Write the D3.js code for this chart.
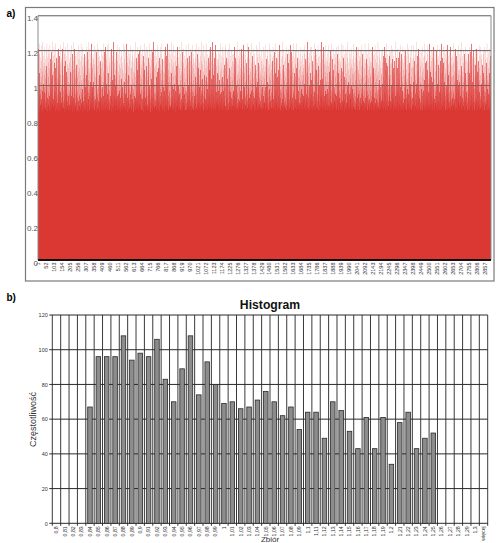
<!DOCTYPE html>
<html><head><meta charset="utf-8">
<script src="https://cdn.jsdelivr.net/npm/d3@7"></script>
<style>body{margin:0;background:#fff;} svg{display:block;font-family:"Liberation Sans",Arial,sans-serif;}</style>
</head><body><svg id="c" width="500" height="543"></svg>
<script>
// ---------- Panel a) : dense series (values in hundredths, estimated from the picture) ----------
const seriesA = [
112,96,88,121,103,91,85,118,99,107,93,124,87,110,95,102,89,116,98,86,123,105,92,114,90,100,87,119,97,108,85,125,94,111,89,101,117,92,86,106,113,96,88,122,99,104,91,115,87,109,
95,120,86,103,111,90,98,124,85,107,93,116,100,88,113,96,121,89,105,92,118,87,101,94,110,86,123,97,108,91,115,99,85,112,104,89,119,95,102,87,125,93,106,90,114,98,88,117,100,92,
108,87,122,94,100,113,89,97,118,85,105,91,110,96,124,88,102,93,116,99,86,111,95,120,90,104,87,115,98,107,92,121,86,101,94,109,89,117,97,103,85,123,91,112,96,106,88,114,100,93,
90,116,99,86,109,94,121,88,103,113,91,97,125,87,106,100,89,118,95,111,92,85,119,98,104,90,114,87,122,96,101,93,108,86,117,99,91,124,88,105,95,112,89,102,120,94,86,110,97,115,
101,89,113,95,87,120,104,92,108,86,116,98,90,123,94,107,88,111,100,85,118,96,103,91,125,87,109,93,114,99,89,106,97,121,86,102,92,117,95,110,88,104,90,119,98,85,112,94,107,91,
119,93,86,105,112,97,89,123,100,91,108,85,115,95,102,88,120,94,110,87,99,114,92,106,86,124,96,103,90,117,88,101,93,111,98,85,122,95,107,89,116,91,104,87,113,100,94,118,86,109,
88,104,117,91,99,86,111,95,122,89,106,93,114,87,101,97,119,90,108,85,125,96,103,92,115,88,110,94,100,86,121,98,107,91,113,89,102,95,118,87,105,93,124,90,109,97,86,116,99,112,
96,110,89,118,93,102,87,115,99,91,123,86,107,94,112,88,100,120,92,105,89,114,97,85,119,103,90,108,95,124,87,111,98,93,116,86,104,91,121,99,88,113,96,106,90,117,85,109,94,101,
114,91,103,87,121,98,93,110,86,105,117,90,99,88,113,95,124,89,102,94,108,86,116,100,91,119,87,106,97,112,92,85,122,96,104,89,115,93,101,87,118,99,90,111,95,107,86,123,98,92,
87,107,95,124,90,100,113,86,97,116,92,105,88,119,94,102,89,111,98,85,121,93,108,96,114,87,103,91,117,99,86,110,95,125,88,101,92,113,97,106,89,120,94,104,86,115,100,91,109,93,
105,92,119,88,97,111,86,123,94,101,89,114,99,87,108,95,118,90,103,86,112,97,122,91,106,88,100,116,93,85,110,98,120,89,104,95,87,117,92,109,99,86,113,94,124,90,102,88,107,96,
93,122,87,102,115,90,98,107,86,119,95,104,88,112,100,91,124,87,109,96,85,117,93,103,89,113,98,120,86,106,94,111,90,99,118,87,105,92,115,97,88,123,95,101,89,110,86,114,100,92,
110,86,99,117,92,104,88,121,96,90,108,85,113,98,102,89,119,94,107,87,115,100,91,125,93,105,86,111,97,88,116,95,103,90,122,87,109,99,92,114,86,106,94,118,89,101,96,112,88,120,
98,115,90,106,87,123,95,101,89,112,93,118,86,104,97,110,88,121,92,99,86,114,96,107,90,117,85,103,94,124,88,109,97,91,113,86,100,119,93,105,89,116,95,87,111,98,92,122,86,108,
89,103,120,94,86,109,99,116,91,105,87,124,97,100,113,88,95,118,92,107,85,111,98,90,121,94,104,87,115,100,89,108,93,119,86,102,96,113,90,125,88,106,99,92,117,87,110,95,101,91,
121,96,88,111,100,92,117,86,105,94,113,89,99,123,87,108,95,102,90,119,86,110,97,114,91,104,88,116,93,100,85,122,98,107,89,112,94,118,87,103,96,109,90,124,92,101,86,115,99,88,
94,108,86,99,114,91,103,88,120,97,107,85,116,93,101,89,122,95,110,87,104,99,117,90,112,86,98,106,92,124,88,100,115,94,109,86,102,119,91,97,113,88,105,96,121,89,108,93,87,118,
102,88,125,92,107,97,89,115,94,111,86,100,119,91,105,87,113,98,90,123,86,109,95,101,88,117,93,106,90,114,97,85,120,92,104,89,111,96,87,116,99,103,91,122,88,107,94,86,112,100,
116,93,101,87,110,95,122,89,98,106,91,118,86,103,96,114,88,108,92,125,87,100,97,111,90,119,86,105,94,113,88,99,121,91,107,86,102,95,117,89,110,97,92,115,86,104,99,123,90,96,
86,111,97,120,90,103,88,116,95,107,92,124,87,100,113,94,89,109,98,117,86,105,92,121,96,102,88,114,91,108,99,86,119,93,106,89,112,97,101,87,123,94,110,90,118,86,103,96,115,92,
107,94,88,113,99,86,121,92,105,97,116,89,102,111,87,124,95,100,90,108,86,118,98,104,91,115,88,110,96,93,122,87,106,99,113,90,101,86,117,94,109,92,88,120,97,103,89,114,95,125,
91,119,96,104,87,112,99,90,123,86,108,94,101,117,89,106,93,115,97,86,110,103,92,120,88,99,114,91,105,87,124,95,102,89,111,98,86,118,93,107,90,116,96,100,87,121,94,109,88,113,
117,89,108,95,122,91,100,87,114,98,104,86,119,93,110,90,97,125,88,103,95,112,86,106,99,120,92,101,89,116,94,108,87,113,97,90,123,86,105,100,91,118,96,111,88,102,93,115,89,107,
100,92,115,87,106,97,120,89,111,94,86,103,118,91,99,108,88,124,95,101,90,113,86,117,96,104,92,110,89,122,87,105,98,93,116,86,109,97,102,90,119,94,88,112,99,106,91,121,86,114,
88,123,99,110,92,86,116,101,95,108,89,119,93,104,87,113,97,90,121,86,106,100,115,91,98,110,88,124,94,102,87,117,96,109,90,105,86,120,93,111,99,89,114,92,103,88,118,95,107,97,
113,97,90,118,86,105,94,122,99,88,111,92,102,87,116,95,109,89,120,93,100,86,114,98,106,90,125,87,103,96,112,89,117,92,101,86,108,99,121,91,104,88,115,95,110,87,97,119,90,106,
95,104,121,89,101,112,87,97,117,92,108,86,114,100,91,123,88,105,96,111,90,99,118,86,107,93,102,115,89,120,94,86,109,97,113,88,103,92,124,95,100,87,116,91,106,98,89,122,93,110,
120,87,106,93,115,99,89,110,86,103,95,119,91,108,88,113,97,101,86,124,92,105,90,117,98,87,111,94,104,89,121,96,100,86,114,93,107,88,118,91,102,97,112,86,109,95,123,90,99,104,
92,109,88,116,97,102,86,121,94,107,90,113,99,87,118,93,104,89,111,96,125,86,100,108,91,117,88,106,95,114,87,103,98,120,90,110,86,99,115,92,105,89,122,94,101,87,112,97,108,90,
104,91,119,87,111,96,99,86,123,93,108,89,115,100,92,106,87,120,95,102,88,117,90,110,97,86,114,101,93,124,89,105,98,112,86,107,94,118,91,103,88,121,96,99,87,113,92,109,100,116,
87,114,95,100,122,89,106,92,117,86,103,98,110,90,119,94,88,113,101,96,107,86,124,91,104,89,116,97,93,111,87,120,99,105,90,115,86,102,94,109,88,118,95,112,91,100,123,87,106,97,
111,98,86,107,93,120,90,104,88,115,96,101,125,87,109,92,99,117,89,106,94,112,86,121,97,103,90,114,88,108,95,119,91,100,87,116,93,105,98,122,86,110,89,102,96,113,92,118,88,101,
97,121,90,113,86,104,99,118,92,109,87,100,115,94,106,88,123,96,102,90,111,86,119,98,105,91,114,87,108,93,117,89,101,95,124,86,110,97,103,91,116,88,107,94,99,120,87,112,92,105,
119,88,103,95,110,91,124,86,107,99,92,116,89,101,113,87,105,97,120,93,88,109,100,115,90,104,86,118,96,111,89,102,93,122,87,106,98,114,91,100,117,86,108,95,103,89,121,92,110,94,
90,106,112,87,118,97,101,93,123,89,104,86,115,99,91,110,88,120,95,107,92,114,86,102,97,125,90,108,94,99,116,87,111,93,105,89,119,96,100,86,113,92,122,88,107,98,103,91,117,95,
103,95,87,122,92,108,99,114,86,105,91,119,97,88,112,101,94,124,89,106,96,117,87,100,110,93,121,90,104,86,115,98,109,92,88,118,95,102,113,87,107,91,123,99,94,111,86,116,100,89,
86,117,100,91,109,88,121,94,103,97,113,87,106,92,125,95,99,110,86,118,93,104,89,115,96,101,88,122,91,107,99,112,87,119,94,100,90,114,86,108,97,123,92,105,89,116,95,102,88,111,
114,90,107,98,86,119,93,102,111,88,123,96,100,89,116,92,108,86,113,99,105,91,120,87,110,94,97,117,90,103,88,124,95,106,92,115,86,101,98,121,89,109,93,104,87,118,96,112,91,99,
99,112,88,120,95,105,90,116,86,108,94,101,122,87,111,97,92,118,89,103,96,114,86,107,100,123,91,109,88,115,93,102,97,119,86,106,90,113,95,100,124,88,110,92,104,87,117,98,108,91,
108,86,123,93,101,116,89,97,110,91,118,85,105,99,92,114,88,121,95,103,87,112,96,107,90,119,86,104,98,116,93,100,89,125,94,109,87,102,97,113,91,106,88,120,95,101,86,115,99,110,
92,118,96,104,89,112,100,87,121,94,107,90,115,98,86,110,102,93,124,88,106,95,117,91,100,113,87,108,96,120,90,103,86,116,94,109,99,89,122,92,105,97,114,86,111,93,101,119,88,107,
122,95,88,109,99,117,91,103,86,114,97,106,90,120,93,101,87,116,98,111,89,104,95,123,86,108,92,118,100,96,112,88,105,91,119,94,99,86,115,101,90,110,97,124,87,106,93,113,89,102,
96,103,115,88,120,92,106,97,112,86,118,94,100,91,124,89,109,95,104,87,116,99,92,111,86,121,97,105,90,114,88,107,94,119,91,101,86,113,98,108,90,122,95,100,88,117,93,110,86,105,
111,89,100,118,93,107,86,123,96,102,90,115,88,109,99,120,92,104,86,113,97,91,117,88,106,95,125,90,101,87,112,98,108,93,116,86,103,96,121,89,110,94,99,87,114,92,106,100,119,91,
89,107,93,113,87,101,121,95,110,90,98,117,86,105,92,114,99,88,122,96,103,90,109,86,116,94,100,119,91,108,87,113,97,124,89,102,95,111,86,118,93,106,98,88,115,100,91,120,94,104,
117,94,104,86,112,99,91,119,88,106,95,123,90,100,113,87,108,96,101,115,89,121,93,105,86,110,98,92,117,88,103,96,114,90,107,86,120,99,94,111,88,125,95,102,91,116,87,109,97,100,
93,110,88,121,97,104,90,116,86,101,112,94,107,89,119,96,103,87,114,92,99,123,88,108,95,111,86,118,100,91,105,89,115,97,102,87,122,93,109,90,113,96,86,117,99,106,92,120,88,103,
106,99,120,91,87,114,102,95,109,86,117,93,104,89,124,98,100,92,112,87,118,95,107,90,121,86,103,97,113,91,108,88,116,94,101,87,119,99,110,92,105,86,123,96,100,89,115,93,111,88,
88,116,97,102,110,89,123,93,107,86,114,100,91,118,95,103,88,120,96,106,92,112,86,101,98,125,90,108,94,117,87,104,99,113,91,121,86,109,95,100,88,116,93,105,97,119,90,111,86,102,
115,92,105,87,119,98,101,90,113,96,108,86,122,94,100,89,116,97,104,91,110,87,124,95,103,88,117,92,107,86,113,99,90,120,94,106,88,114,97,101,86,118,93,109,100,91,123,89,104,96,
101,87,113,95,106,90,124,88,103,99,117,92,108,86,111,97,94,120,89,105,100,114,87,119,93,102,91,116,86,107,98,122,90,110,95,99,88,115,92,104,86,121,97,108,90,112,94,100,87,118,
94,120,89,108,97,115,86,101,92,123,99,105,88,112,94,117,90,103,86,110,96,121,91,100,107,87,114,95,98,119,89,106,93,124,86,102,97,111,90,116,88,108,95,101,92,113,87,122,99,105,
120,96,102,88,114,91,107,99,86,118,94,110,89,121,97,100,87,115,92,104,98,123,86,109,95,112,90,106,88,117,93,101,96,119,87,108,91,113,99,86,122,94,103,90,116,97,105,88,111,92,
91,105,117,93,100,86,112,97,124,89,106,95,113,87,102,119,92,108,90,115,86,99,121,94,104,88,111,96,101,117,87,107,93,120,89,103,98,114,86,109,95,100,123,91,106,88,118,97,102,90,
109,88,99,121,94,106,90,116,87,103,96,111,92,125,86,108,100,93,117,89,105,97,113,88,120,91,102,95,110,86,118,99,104,90,114,87,107,94,122,92,100,88,115,96,103,89,119,93,108,86,
97,113,90,104,87,118,95,101,110,92,122,86,107,99,114,88,103,96,119,91,106,87,111,94,100,124,89,108,97,115,90,102,86,117,93,105,99,120,88,109,95,112,91,100,86,116,98,104,90,121,
112,93,106,89,116,100,92,121,87,105,97,113,90,108,86,119,95,102,88,114,98,107,91,123,86,103,96,110,89,117,94,100,87,122,92,106,99,115,88,101,93,118,90,109,86,112,97,104,91,120,
90,107,99,118,88,103,94,111,86,122,97,105,91,115,89,101,96,120,87,108,93,113,100,90,124,86,106,98,116,92,103,88,119,95,110,87,102,97,114,91,107,86,121,94,100,89,117,93,109,96
];
const yTicksA = [0, 0.2, 0.4, 0.6, 0.8, 1, 1.2, 1.4];
const yTickLabelsA = ["0", "0.2", "0.4", "0.6", "0.8", "1", "1.2", "1.4"];
const xLabelStepA = 51;

// ---------- Panel b) : histogram ----------
const bins = ["0,8","0,81","0,82","0,83","0,84","0,85","0,86","0,87","0,88","0,89","0,9","0,91","0,92","0,93","0,94","0,95","0,96","0,97","0,98","0,99","1","1,01","1,02","1,03","1,04","1,05","1,06","1,07","1,08","1,09","1,1","1,11","1,12","1,13","1,14","1,15","1,16","1,17","1,18","1,19","1,2","1,21","1,22","1,23","1,24","1,25","1,26","1,27","1,28","1,29","1,3","więcej"];
const counts = [0,0,0,0,67,96,96,96,108,94,98,96,106,83,70,89,108,74,93,80,69,70,66,67,71,76,70,62,67,54,64,64,49,70,65,53,43,61,43,61,34,58,64,43,49,52,0,0,0,0,0,0];
const yTicksB = [0, 20, 40, 60, 80, 100, 120];

const svg = d3.select("#c");

// ===== Panel a =====
svg.append("rect").attr("x", 25.5).attr("y", 7.5).attr("width", 468.5).attr("height", 273.5)
  .attr("fill", "none").attr("stroke", "#7a7a7a").attr("stroke-width", 1.2);
svg.append("text").attr("x", 6.5).attr("y", 16.5).attr("font-size", 10).attr("font-weight", "bold").text("a)");

const xA = d3.scaleBand().domain(d3.range(1, seriesA.length + 1)).range([38, 491]).padding(0);
const yA = d3.scaleLinear().domain([0, 1.4]).range([260, 15.7]);

svg.append("g").selectAll("line").data(yTicksA.filter(d => d > 0)).join("line")
  .attr("x1", 38).attr("x2", 491).attr("y1", d => yA(d)).attr("y2", d => yA(d))
  .attr("stroke", "#6a6a6a").attr("stroke-width", 1);

// silhouette of all bars (anti-aliased, gives the light spikes)
const p = d3.path();
p.moveTo(xA.range()[0], yA(0));
seriesA.forEach((v, i) => {
  const x0 = xA(i + 1), yv = yA(v / 100);
  p.lineTo(x0, yv); p.lineTo(x0 + xA.bandwidth(), yv);
});
p.lineTo(xA.range()[1], yA(0)); p.closePath();
svg.append("path").attr("d", p.toString()).attr("fill", "#db3733");

// individual bars, pixel-snapped
svg.append("g").attr("shape-rendering", "crispEdges").selectAll("rect").data(seriesA).join("rect")
  .attr("x", (v, i) => xA(i + 1)).attr("width", xA.bandwidth())
  .attr("y", v => yA(v / 100)).attr("height", v => yA(0) - yA(v / 100))
  .attr("fill", "#db3733").attr("fill-opacity", 0.6);

// gridlines visible through the thin bars
svg.append("g").selectAll("line").data([1, 1.2]).join("line")
  .attr("x1", 38).attr("x2", 491).attr("y1", d => yA(d)).attr("y2", d => yA(d))
  .attr("stroke", "#6a6a6a").attr("stroke-opacity", 0.5);

svg.append("path").attr("d", `M38,${yA(0)}V${yA(1.4)}H491V${yA(0)}`)
  .attr("fill", "none").attr("stroke", "#8a8a8a").attr("stroke-width", 1);

const gyA = svg.append("g").attr("transform", "translate(38,0)")
  .call(d3.axisLeft(yA).tickValues(yTicksA).tickFormat((d, i) => yTickLabelsA[i]).tickSize(0).tickPadding(0));
gyA.select(".domain").remove();
gyA.selectAll("text").attr("font-size", 8).attr("fill", "#555").attr("font-family", null).attr("y", 2.5);

const labelIdx = d3.range(1, seriesA.length + 1, xLabelStepA);
const gxA = svg.append("g").attr("transform", `translate(0,${yA(0)})`)
  .call(d3.axisBottom(xA).tickValues(labelIdx).tickSize(0));
gxA.select(".domain").remove();
gxA.selectAll("text").attr("font-size", 5.5).attr("fill", "#333").attr("font-family", null)
  .attr("transform", "rotate(-90)").attr("text-anchor", "end").attr("x", -2.5).attr("y", 0).attr("dy", "0.35em");
svg.append("line").attr("x1", 38).attr("x2", 491).attr("y1", yA(0)).attr("y2", yA(0))
  .attr("stroke", "#111").attr("stroke-width", 1.8);

// ===== Panel b =====
svg.append("text").attr("x", 6.5).attr("y", 301).attr("font-size", 10).attr("font-weight", "bold").text("b)");
svg.append("text").attr("x", 270).attr("y", 309).attr("text-anchor", "middle")
  .attr("font-size", 12.2).attr("font-weight", "bold").attr("fill", "#111").text("Histogram");

const xB = d3.scaleBand().domain(bins).range([52.3, 487.7]).paddingInner(0.46).paddingOuter(0.23);
const yB = d3.scaleLinear().domain([0, 120]).range([523.3, 315]);

const x0B = xB.range()[0], stepB = xB.step();
svg.append("g").selectAll("line").data(d3.range(0, bins.length + 1)).join("line")
  .attr("x1", k => x0B + k * stepB).attr("x2", k => x0B + k * stepB)
  .attr("y1", yB(120)).attr("y2", yB(0) + 2.5)
  .attr("stroke", "#3a3a3a").attr("stroke-width", 1);
svg.append("g").selectAll("line").data(yTicksB).join("line")
  .attr("x1", x0B - 3).attr("x2", xB.range()[1]).attr("y1", d => yB(d)).attr("y2", d => yB(d))
  .attr("stroke", "#2a2a2a").attr("stroke-width", 1);

svg.append("g").selectAll("rect").data(bins.map((b, i) => ({ b, c: counts[i] })).filter(d => d.c > 0)).join("rect")
  .attr("x", d => xB(d.b)).attr("width", xB.bandwidth())
  .attr("y", d => yB(d.c)).attr("height", d => yB(0) - yB(d.c))
  .attr("fill", "#8c8c8c").attr("stroke", "#2a2a2a").attr("stroke-width", 0.8);

const gyB = svg.append("g").attr("transform", `translate(${x0B},0)`)
  .call(d3.axisLeft(yB).tickValues(yTicksB).tickSize(0).tickPadding(4.5));
gyB.select(".domain").remove();
gyB.selectAll("text").attr("font-size", 5.5).attr("fill", "#333").attr("font-family", null);

const gxB = svg.append("g").attr("transform", `translate(0,${yB(0)})`)
  .call(d3.axisBottom(xB).tickSize(0));
gxB.select(".domain").remove();
gxB.selectAll("text").attr("font-size", 5.2).attr("fill", "#333").attr("font-family", null)
  .attr("transform", "rotate(-90)").attr("text-anchor", "end").attr("x", -3).attr("y", 0).attr("dy", "0.35em");

svg.append("text").attr("transform", `translate(35.5,419.5) rotate(-90)`).attr("text-anchor", "middle")
  .attr("font-size", 9).attr("fill", "#333").text("Częstotliwość");
svg.append("text").attr("x", 270).attr("y", 542).attr("text-anchor", "middle")
  .attr("font-size", 8).attr("fill", "#333").text("Zbiór");
</script></body></html>
